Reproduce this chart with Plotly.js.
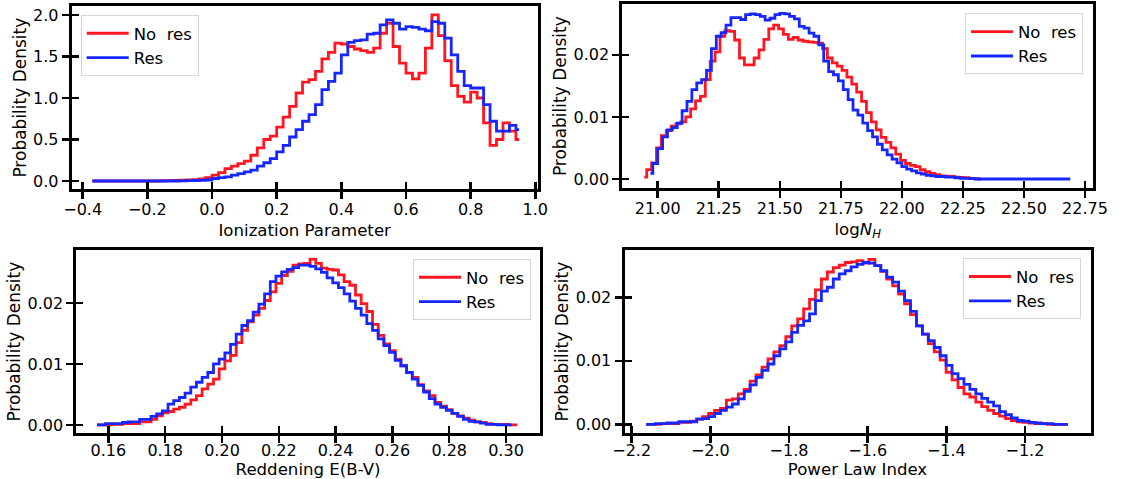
<!DOCTYPE html>
<html>
<head>
<meta charset="utf-8">
<script src="https://cdn.plot.ly/plotly-3.0.1.min.js"></script>
<style>html,body{margin:0;padding:0;background:#fff;}#chart{width:1122px;height:479px;}</style>
</head>
<body>
<div id="chart"></div>
<script>
// ---------------- DATA ----------------
const seriesNames = ['No\u00a0 res', 'Res'];
const xTitles = ['Ionization Parameter', 'log<i>N</i><sub><i>H</i></sub>', 'Reddening E(B-V)', 'Power Law Index'];
const yTitle = 'Probability Density';

// Ionization parameter (bin centres: start + step*i)
const ionNoResStart = -0.37, ionResStart = -0.37, ionStep = 0.02;
const ionNoRes = [0,0,0,0,0,0,0,0,0,0,0,
  0.003,0.005,0.008,0.01,0.012,0.015,0.025,0.04,
  0.07,0.1,0.15,0.18,0.21,0.24,0.31,0.4,0.5,0.54,
  0.65,0.77,0.9,1.06,1.19,1.22,1.32,1.47,1.55,1.66,
  1.65,1.62,1.59,1.57,1.55,1.6,1.78,1.9,1.62,1.42,
  1.3,1.23,1.3,1.6,2.0,1.75,1.45,1.15,1.02,0.95,
  1.07,1.0,0.7,0.43,0.5,0.7,0.6,0.5];
const ionRes = [0,0,0,0,0,0,0,0,0,0,0,0,0,0,
  0.002,0.004,0.006,0.008,0.012,
  0.03,0.04,0.05,0.07,0.09,0.11,0.13,0.18,0.22,0.27,
  0.35,0.43,0.53,0.62,0.72,0.8,0.92,1.1,1.2,1.3,
  1.52,1.67,1.69,1.7,1.77,1.78,1.88,1.94,1.9,1.83,
  1.86,1.85,1.83,1.81,1.92,1.9,1.72,1.52,1.32,1.15,
  1.12,1.12,0.92,0.72,0.6,0.6,0.67,0.62];

// log N_H
const nhNoResStart = 20.945, nhResStart = 20.97, nhStep = 0.02;
const nhNoRes = [0.0003,0.0015,0.0026,0.0050,0.0070,0.0078,0.0085,0.0089,0.0092,0.0100,
  0.0113,0.0126,0.0133,0.0160,0.0190,0.0205,0.0230,0.0239,0.0238,0.0224,
  0.0195,0.0184,0.0184,0.0195,0.0208,0.0225,0.0242,0.0248,0.0242,0.0233,
  0.0225,0.0228,0.0224,0.0222,0.0221,0.0220,0.0219,0.0210,0.0195,0.0187,
  0.0182,0.0175,0.0164,0.0153,0.0140,0.0125,0.0107,0.0092,0.0079,0.0067,
  0.0059,0.0050,0.0040,0.0030,0.0025,0.0022,0.0020,0.0015,0.0012,0.0009,
  0.0007,0.0005,0.00045,0.0004,0.0003,0.00025,0.0002,0.0001,0.00005,0];
const nhRes = [0.0009,0.0025,0.0049,0.0068,0.0079,0.0083,0.0090,0.0110,0.0125,0.0144,
  0.0155,0.0160,0.0175,0.0210,0.0230,0.0236,0.0248,0.0260,0.0260,0.0257,
  0.0265,0.0266,0.0265,0.0262,0.0256,0.0259,0.0265,0.0267,0.0266,0.0262,
  0.0258,0.0246,0.0243,0.0235,0.0230,0.0216,0.0190,0.0173,0.0168,0.0158,
  0.0144,0.0128,0.0111,0.0103,0.0090,0.0078,0.0068,0.0056,0.0047,0.0039,
  0.0032,0.0026,0.0020,0.0016,0.0013,0.0010,0.0008,0.0006,0.0005,0.0004,
  0.0004,0.0003,0.0003,0.0002,0.0001,0.0001,0.00005,
  0,0,0,0,0,0,0,0,0,0,0,0,0,0,0,0,0,0,0,0];

// Reddening E(B-V)
const rdNoResStart = 0.156, rdResStart = 0.156, rdStep = 0.002;
const rdNoRes = [0,0,0,0.0001,0.0001,0.0002,0.0002,0.0002,0.0005,0.0005,
  0.0009,0.0015,0.0020,0.0022,0.0026,0.0029,0.0034,0.0041,0.0048,0.0059,
  0.0067,0.0075,0.0092,0.0105,0.0114,0.0135,0.0155,0.0169,0.0180,0.0191,
  0.0204,0.0218,0.0232,0.0245,0.0252,0.0262,0.0264,0.0265,0.0272,0.0265,
  0.0257,0.0255,0.0254,0.0246,0.0235,0.0229,0.0213,0.0199,0.0186,0.0165,
  0.0147,0.0133,0.0122,0.0108,0.0097,0.0086,0.0078,0.0066,0.0056,0.0048,
  0.0037,0.0031,0.0025,0.0019,0.0015,0.0011,0.0008,0.0005,0.0004,0.0002,
  0.0001,0.0001,0.0001,0,0];
const rdRes = [0,0,0.0002,0.0002,0.0002,0.0004,0.0005,0.0005,0.0009,0.0009,
  0.0014,0.0018,0.0023,0.0034,0.0040,0.0045,0.0052,0.0062,0.0070,0.0078,
  0.0086,0.0100,0.0108,0.0118,0.0132,0.0149,0.0163,0.0171,0.0185,0.0198,
  0.0215,0.0235,0.0244,0.0251,0.0255,0.0258,0.0262,0.0262,0.0260,0.0256,
  0.0250,0.0241,0.0233,0.0225,0.0215,0.0203,0.0191,0.0180,0.0166,0.0155,
  0.0141,0.0130,0.0119,0.0106,0.0097,0.0086,0.0075,0.0065,0.0054,0.0043,
  0.0034,0.0029,0.0024,0.0019,0.0014,0.0009,0.0006,0.0005,0.0003,0.0001,
  0.0001,0,0,0];

// Power law index
const plNoResStart = -2.163, plResStart = -2.163, plStep = 0.0151;
const plNoRes = [0,0,0,0.0001,0.0001,0.0001,0.0003,0.0003,0.0005,0.0008,
  0.0012,0.0017,0.0022,0.0025,0.0038,0.0040,0.0048,0.0055,0.0068,0.0078,
  0.0090,0.0103,0.0114,0.0124,0.0138,0.0155,0.0166,0.0182,0.0197,0.0212,
  0.0229,0.0240,0.0247,0.0251,0.0255,0.0256,0.0258,0.0254,0.0260,0.0250,
  0.0241,0.0229,0.0218,0.0205,0.0190,0.0173,0.0155,0.0142,0.0127,0.0114,
  0.0101,0.0082,0.0070,0.0058,0.0048,0.0043,0.0035,0.0028,0.0022,0.0017,
  0.0013,0.0009,0.0006,0.0004,0.0003,0.0002,0.0001,0.0001,0,0,0,0];
const plRes = [0,0,0.0001,0.0001,0.0002,0.0002,0.0004,0.0004,0.0004,0.0008,
  0.0009,0.0012,0.0017,0.0022,0.0027,0.0032,0.0040,0.0052,0.0062,0.0074,
  0.0085,0.0095,0.0108,0.0119,0.0130,0.0145,0.0156,0.0163,0.0174,0.0195,
  0.0210,0.0216,0.0229,0.0237,0.0242,0.0248,0.0252,0.0255,0.0254,0.0250,
  0.0242,0.0232,0.0224,0.0210,0.0195,0.0178,0.0155,0.0142,0.0132,0.0121,
  0.0108,0.0093,0.0080,0.0072,0.0063,0.0055,0.0048,0.0041,0.0035,0.0029,
  0.0020,0.0015,0.0010,0.0006,0.0005,0.0003,0.0002,0.0001,0.0001,0,0,0];

// ---------------- LAYOUT ----------------
const W = 1122, H = 479;
const FONT = 'DejaVu Sans, Liberation Sans, sans-serif';
const RED = 'rgb(255,22,32)', BLUE = 'rgb(22,38,255)';
const fx = p => p / W, fy = p => 1 - p / H;

const panels = [
  {l:71.7, r:537.7, t:6, bot:189.3, xr:[-0.434,1.0074], yr:[-0.1,2.108], xt0:-0.4, xdt:0.2, xf:'.1f', yt0:0, ydt:0.5, yf:'.1f', tls:-4,
   sA:[ionNoResStart, ionStep, ionNoRes], sB:[ionResStart, ionStep, ionRes], leg:{x:80.7, y:15, anchor:'left'}},
  {l:622.3, r:1093, t:4, bot:188.3, xr:[20.855,22.783], yr:[-0.0015,0.0282], xt0:21, xdt:0.25, xf:'.2f', yt0:0, ydt:0.01, yf:'.2f', tls:-4,
   sA:[nhNoResStart, nhStep, nhNoRes], sB:[nhResStart, nhStep, nhRes], leg:{x:1083, y:13.3, anchor:'right'}},
  {l:76.3, r:539.8, t:250, bot:433.3, xr:[0.1487,0.3119], yr:[-0.00137,0.02868], xt0:0.16, xdt:0.02, xf:'.2f', yt0:0, ydt:0.01, yf:'.2f', tls:-7,
   sA:[rdNoResStart, rdStep, rdNoRes], sB:[rdResStart, rdStep, rdRes], leg:{x:531, y:259, anchor:'right'}},
  {l:624.5, r:1090.5, t:250, bot:433.3, xr:[-2.2183,-1.0333], yr:[-0.00142,0.02747], xt0:-2.2, xdt:0.2, xf:'.1f', yt0:0, ydt:0.01, yf:'.2f', tls:-7,
   sA:[plNoResStart, plStep, plNoRes], sB:[plResStart, plStep, plRes], leg:{x:1081, y:258.3, anchor:'right'}}
];

const centres = (start, step, vals) => vals.map((_, i) => +(start + step * i).toFixed(6));

const layout = {
  width: W, height: H,
  margin: {l:0, r:0, t:0, b:0},
  paper_bgcolor: '#fff', plot_bgcolor: '#fff',
  font: {family: FONT, size: 16, color: '#000'},
  showlegend: true
};
const data = [];

panels.forEach((p, k) => {
  const n = k + 1, m = k + 5;
  const xs = n === 1 ? '' : String(n), ys = xs;
  const legName = n === 1 ? 'legend' : 'legend' + n;
  const common = {showgrid:false, zeroline:false, automargin:false, fixedrange:true, tickmode:'linear',
                  tickcolor:'#000', tickwidth:2.5, ticklen:7};
  layout['xaxis' + xs] = Object.assign({}, common, {
    domain:[fx(p.l), fx(p.r)], anchor:'y' + ys, range:p.xr, tick0:p.xt0, dtick:p.xdt, tickformat:p.xf,
    ticks:'outside', showline:true, linecolor:'#000', linewidth:3, mirror:true, ticklabelstandoff:p.tls,
    tickfont:{family:FONT, size:16, color:'#000'},
    title:{text:xTitles[k], font:{family:FONT, size:16.6, color:'#000'}, standoff:7}
  });
  layout['yaxis' + ys] = Object.assign({}, common, {
    domain:[fy(p.bot), fy(p.t)], anchor:'x' + xs, range:p.yr, tick0:p.yt0, dtick:p.ydt, tickformat:p.yf,
    ticks:'outside', showline:true, linecolor:'#000', linewidth:3, mirror:true,
    tickfont:{family:FONT, size:16, color:'#000'},
    title:{text:yTitle, font:{family:FONT, size:17, color:'#000'}, standoff:3}
  });
  // overlay axes carrying the inner half of the tick marks
  layout['xaxis' + m] = Object.assign({}, common, {
    overlaying:'x' + xs, anchor:'y' + ys, range:p.xr, tick0:p.xt0, dtick:p.xdt,
    ticks:'inside', showline:false, showticklabels:false
  });
  layout['yaxis' + m] = Object.assign({}, common, {
    overlaying:'y' + ys, anchor:'x' + xs, range:p.yr, tick0:p.yt0, dtick:p.ydt,
    ticks:'inside', showline:false, showticklabels:false, side:'left'
  });
  layout[legName] = {
    x: fx(p.leg.x), y: fy(p.leg.y), xanchor: p.leg.anchor, yanchor: 'top',
    bgcolor: 'rgba(255,255,255,0.85)', bordercolor: '#d6d6d6', borderwidth: 1,
    font: {family: FONT, size: 16.5, color: '#000'}, tracegroupgap: 0, itemwidth: 42
  };
  data.push({
    type:'scatter', mode:'lines', name:seriesNames[0],
    x: centres(p.sA[0], p.sA[1], p.sA[2]), y: p.sA[2],
    line:{shape:'hvh', color:RED, width:2.8},
    xaxis:'x' + xs, yaxis:'y' + ys, legend:legName, hoverinfo:'skip'
  });
  data.push({
    type:'scatter', mode:'lines', name:seriesNames[1],
    x: centres(p.sB[0], p.sB[1], p.sB[2]), y: p.sB[2],
    line:{shape:'hvh', color:BLUE, width:2.8},
    xaxis:'x' + m, yaxis:'y' + m, legend:legName, hoverinfo:'skip'
  });
});

Plotly.newPlot('chart', data, layout, {staticPlot:true, displayModeBar:false});
</script>
</body>
</html>
